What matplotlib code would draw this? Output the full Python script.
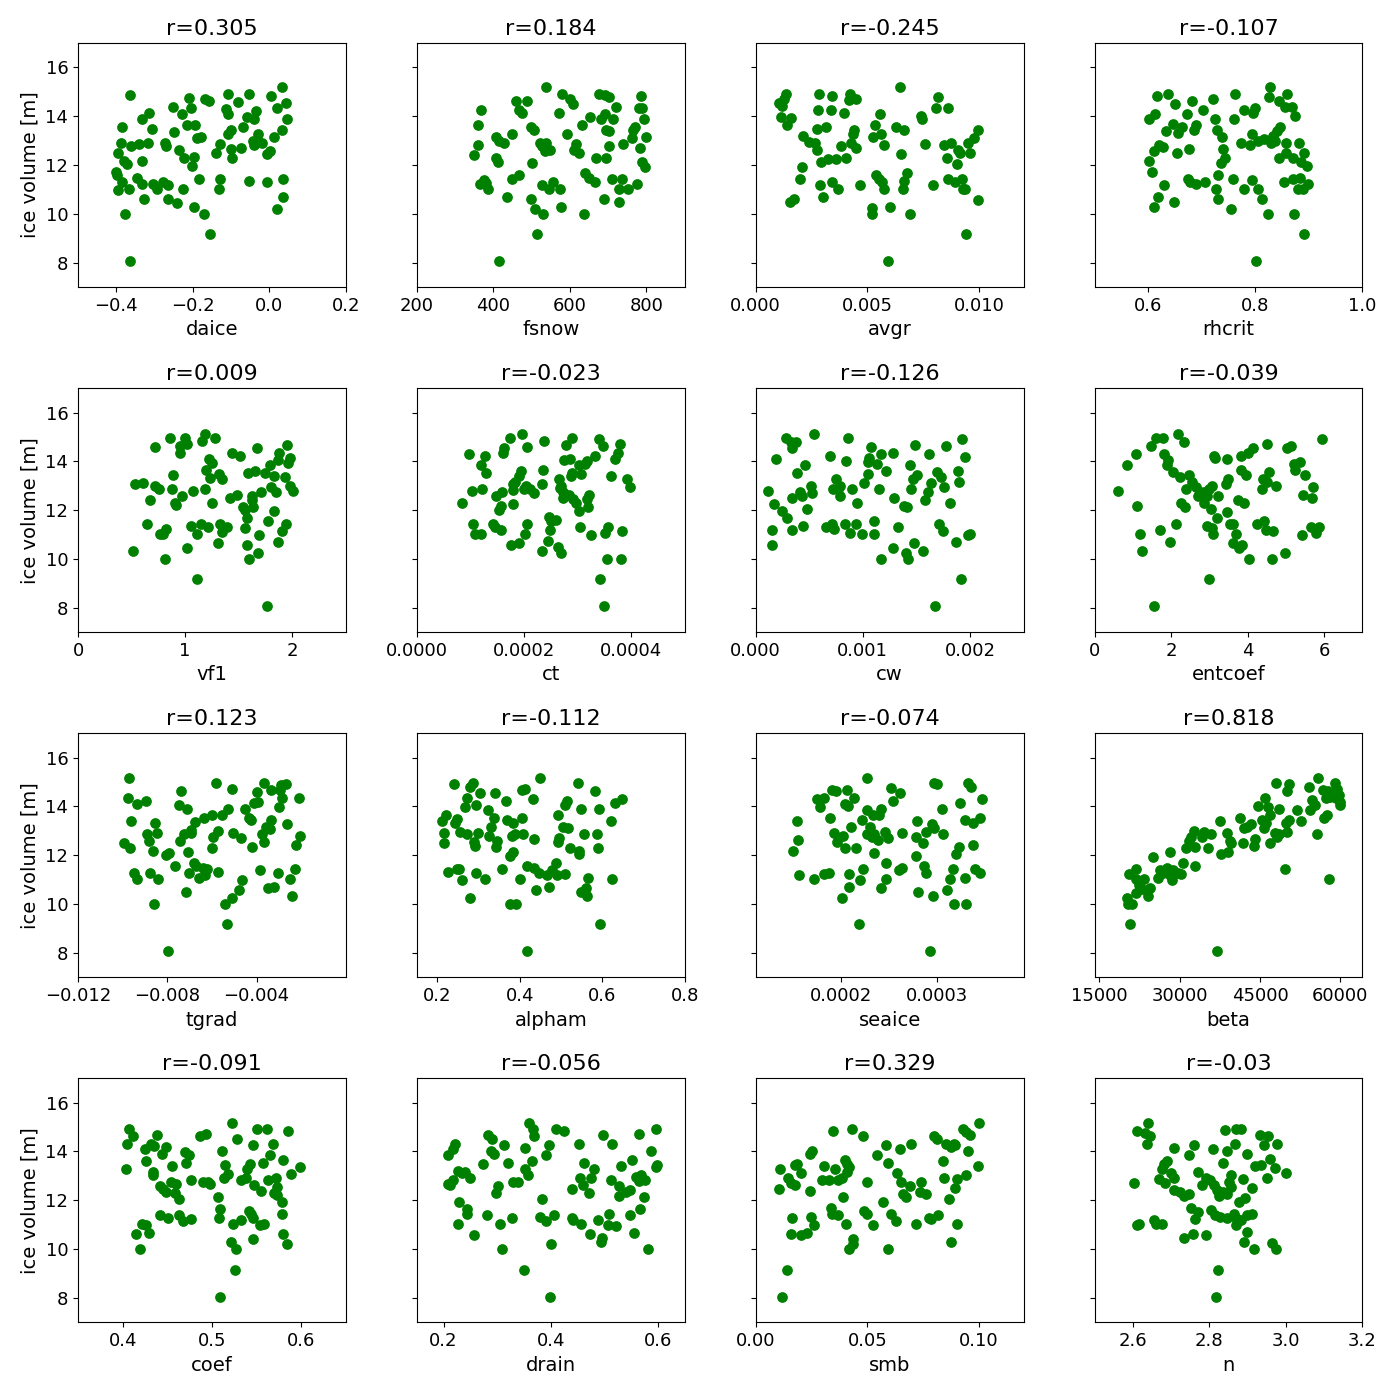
import matplotlib
matplotlib.use('Agg')
import matplotlib.pyplot as plt

# Points: (parameter value, ice volume [m])
daice = [(0.034, 15.18), (-0.365, 14.88), (-0.107, 14.93), (-0.053, 14.93), (0.005, 14.85), (-0.21, 14.76),
         (-0.168, 14.70), (-0.158, 14.63), (-0.081, 14.6), (0.044, 14.54), (-0.252, 14.36), (-0.206, 14.32),
         (0.02, 14.32), (-0.112, 14.29), (-0.109, 14.08), (-0.314, 14.15), (-0.229, 14.11), (-0.035, 14.22),
         (-0.058, 13.99), (-0.332, 13.88), (-0.041, 13.88), (0.047, 13.88), (-0.215, 13.63), (-0.195, 13.63),
         (-0.384, 13.56), (-0.068, 13.56), (-0.307, 13.47), (-0.1, 13.43), (-0.107, 13.26), (-0.25, 13.37),
         (0.032, 13.44), (-0.029, 13.29), (-0.178, 13.15), (-0.188, 13.09), (0.013, 13.15), (-0.318, 12.92),
         (-0.388, 12.9), (-0.34, 12.85), (-0.273, 12.9), (-0.27, 12.79), (-0.362, 12.77), (-0.13, 12.88),
         (-0.043, 13.0), (-0.039, 12.81), (-0.02, 12.92), (-0.074, 12.72), (-0.1, 12.65), (-0.236, 12.62),
         (-0.395, 12.51), (-0.139, 12.48), (0.002, 12.58), (-0.006, 12.44), (-0.198, 12.33), (-0.222, 12.27),
         (-0.097, 12.27), (-0.334, 12.18), (-0.381, 12.16), (-0.373, 12.05), (-0.203, 11.96), (-0.402, 11.72),
         (-0.399, 11.58), (-0.347, 11.49), (-0.183, 11.44), (-0.128, 11.44), (-0.054, 11.36), (0.035, 11.44),
         (-0.386, 11.31), (-0.334, 11.21), (-0.303, 11.21), (-0.293, 11.0), (-0.279, 11.31), (-0.264, 11.17),
         (-0.006, 11.31), (-0.396, 10.98), (-0.366, 11.03), (-0.226, 11.03), (-0.132, 11.03), (0.037, 10.71),
         (-0.328, 10.6), (-0.266, 10.62), (-0.24, 10.46), (-0.197, 10.3), (0.02, 10.21), (-0.377, 10.0),
         (-0.171, 10.0), (-0.156, 9.19), (-0.364, 8.08)]

fsnow = [(538, 15.18), (580, 14.93), (676, 14.93), (691, 14.88), (702, 14.77), (786, 14.85), (459, 14.62),
         (488, 14.62), (600, 14.7), (608, 14.52), (368, 14.25), (467, 14.25), (474, 14.15), (691, 14.08),
         (721, 14.36), (780, 14.32), (788, 14.34), (571, 14.13), (653, 13.99), (712, 13.88), (682, 13.88),
         (794, 13.88), (359, 13.66), (632, 13.63), (771, 13.58), (765, 13.44), (498, 13.58), (507, 13.43),
         (694, 13.44), (702, 13.4), (448, 13.29), (592, 13.29), (406, 13.15), (798, 13.17), (761, 13.09),
         (416, 12.99), (427, 12.89), (521, 12.92), (538, 12.92), (526, 12.79), (615, 12.85), (738, 12.85),
         (359, 12.81), (702, 12.79), (535, 12.58), (549, 12.6), (611, 12.62), (624, 12.48), (349, 12.42),
         (782, 12.72), (406, 12.27), (412, 12.14), (668, 12.27), (694, 12.31), (788, 12.14), (502, 12.07),
         (796, 11.94), (639, 11.69), (651, 11.49), (467, 11.58), (448, 11.44), (375, 11.39), (382, 11.28),
         (366, 11.21), (385, 11.03), (526, 11.2), (556, 11.31), (666, 11.31), (709, 11.44), (735, 11.44),
         (776, 11.21), (545, 11.03), (575, 11.03), (729, 11.03), (753, 11.03), (436, 10.71), (498, 10.62),
         (688, 10.6), (729, 10.49), (509, 10.21), (578, 10.3), (531, 10.0), (636, 10.0), (514, 9.19),
         (415, 8.08)]

avgr = [(0.00645, 15.18), (0.00135, 14.9), (0.00282, 14.93), (0.00341, 14.85), (0.00423, 14.93), (0.00417, 14.66),
        (0.0045, 14.7), (0.00817, 14.77), (0.00105, 14.54), (0.00119, 14.43), (0.00129, 14.7), (0.00278, 14.25),
        (0.00337, 14.25), (0.00395, 14.15), (0.00809, 14.32), (0.00863, 14.32), (0.00556, 14.11), (0.00115, 13.95),
        (0.00157, 13.91), (0.00139, 13.65), (0.0074, 14.0), (0.00744, 13.88), (0.00536, 13.63), (0.00629, 13.56),
        (0.00665, 13.43), (0.00274, 13.47), (0.00313, 13.54), (0.00442, 13.43), (0.00434, 13.26), (0.00526, 13.15),
        (0.00562, 13.29), (0.00998, 13.43), (0.00976, 13.13), (0.00952, 12.9), (0.00212, 13.19), (0.00238, 12.95),
        (0.00264, 12.92), (0.00429, 12.9), (0.00448, 12.72), (0.00383, 12.79), (0.00577, 12.81), (0.00758, 12.85),
        (0.00843, 12.84), (0.00877, 12.92), (0.00274, 12.61), (0.00907, 12.62), (0.00915, 12.51), (0.00651, 12.45),
        (0.00962, 12.51), (0.00405, 12.31), (0.00361, 12.24), (0.00323, 12.24), (0.00292, 12.14), (0.00857, 12.27),
        (0.00901, 12.06), (0.00206, 11.94), (0.0068, 11.69), (0.0054, 11.6), (0.00554, 11.42), (0.00565, 11.31),
        (0.002, 11.44), (0.00288, 11.2), (0.00343, 11.31), (0.00371, 11.03), (0.00468, 11.2), (0.00665, 11.35),
        (0.00659, 11.03), (0.00573, 11.03), (0.00794, 11.17), (0.00863, 11.44), (0.00891, 11.31), (0.00923, 11.44),
        (0.00927, 11.03), (0.00938, 11.03), (0.003, 10.71), (0.00153, 10.49), (0.00173, 10.62), (0.00996, 10.57),
        (0.00522, 10.24), (0.00522, 10.0), (0.00601, 10.3), (0.00692, 10.0), (0.00942, 9.19), (0.00593, 8.08)]

rhcrit = [(0.828, 15.18), (0.616, 14.85), (0.638, 14.93), (0.763, 14.93), (0.826, 14.77), (0.86, 14.9), (0.65, 14.52),
          (0.682, 14.62), (0.722, 14.7), (0.844, 14.63), (0.855, 14.36), (0.868, 14.39), (0.702, 14.25),
          (0.779, 14.25), (0.8, 14.32), (0.796, 14.13), (0.672, 14.11), (0.613, 14.08), (0.602, 13.88),
          (0.874, 14.0), (0.725, 13.88), (0.761, 13.88), (0.646, 13.67), (0.663, 13.58), (0.656, 13.3),
          (0.69, 13.65), (0.686, 13.44), (0.633, 13.4), (0.728, 13.43), (0.738, 13.15), (0.794, 13.29),
          (0.847, 13.56), (0.84, 13.4), (0.833, 13.19), (0.816, 13.06), (0.806, 12.99), (0.829, 12.9),
          (0.837, 12.99), (0.773, 12.9), (0.79, 12.84), (0.858, 12.9), (0.881, 12.92), (0.621, 12.83),
          (0.628, 12.74), (0.611, 12.58), (0.677, 12.65), (0.74, 12.65), (0.654, 12.48), (0.857, 12.48),
          (0.845, 12.27), (0.891, 12.51), (0.743, 12.31), (0.737, 12.07), (0.87, 12.31), (0.886, 12.14),
          (0.897, 11.96), (0.602, 12.18), (0.607, 11.72), (0.73, 11.58), (0.674, 11.44), (0.679, 11.31),
          (0.69, 11.21), (0.707, 11.31), (0.759, 11.44), (0.794, 11.38), (0.853, 11.31), (0.87, 11.44),
          (0.884, 11.49), (0.899, 11.21), (0.88, 11.03), (0.889, 11.03), (0.63, 11.17), (0.726, 11.03),
          (0.779, 11.0), (0.806, 11.03), (0.618, 10.71), (0.73, 10.6), (0.812, 10.62), (0.649, 10.49),
          (0.611, 10.3), (0.755, 10.21), (0.824, 10.0), (0.872, 10.0), (0.891, 9.19), (0.802, 8.08)]

vf1 = [(1.186, 15.14), (0.86, 14.94), (1.0, 14.94), (1.015, 14.73), (0.956, 14.63), (0.948, 14.33), (1.157, 14.82),
       (1.282, 14.94), (0.718, 14.57), (1.666, 14.53), (1.954, 14.67), (1.44, 14.33), (1.511, 14.23), (1.879, 14.33),
       (1.866, 14.05), (1.983, 14.12), (1.962, 13.92), (1.223, 14.1), (1.253, 13.92), (1.198, 13.65), (1.232, 13.31),
       (1.791, 13.85), (1.649, 13.62), (1.59, 13.51), (1.741, 13.51), (1.825, 13.4), (0.889, 13.44), (1.315, 13.47),
       (1.34, 13.27), (1.934, 13.37), (0.53, 13.08), (0.605, 13.13), (0.714, 12.97), (0.756, 12.87), (0.877, 12.87),
       (1.073, 12.79), (1.182, 12.87), (1.804, 12.93), (1.846, 12.76), (1.975, 12.97), (2.004, 12.8), (1.708, 12.73),
       (0.973, 12.59), (1.482, 12.63), (1.415, 12.49), (1.628, 12.6), (1.628, 12.42), (0.668, 12.42), (0.906, 12.31),
       (0.919, 12.22), (1.253, 12.31), (1.537, 12.12), (1.557, 11.99), (1.632, 12.12), (1.825, 11.95), (1.578, 11.67),
       (1.775, 11.56), (0.643, 11.43), (1.057, 11.36), (1.148, 11.43), (1.211, 11.29), (1.324, 11.43), (1.34, 11.1),
       (1.39, 11.29), (1.557, 11.27), (1.942, 11.43), (1.908, 11.16), (0.823, 11.22), (0.764, 11.02), (0.793, 11.02),
       (1.11, 11.02), (1.691, 10.99), (1.311, 10.65), (1.87, 10.68), (0.514, 10.34), (1.019, 10.45), (1.578, 10.59),
       (1.683, 10.24), (0.814, 10.0), (1.599, 10.0), (1.106, 9.18), (1.766, 8.08)]

ct = [(0.000196, 15.14), (0.000173, 14.94), (0.000238, 14.82), (0.00029, 14.94), (0.00034, 14.91), (0.000347, 14.63),
      (0.00038, 14.73), (0.000278, 14.67), (0.000163, 14.53), (0.000161, 14.33), (0.000206, 14.58), (0.0000977, 14.29),
      (0.000128, 14.22), (0.000332, 14.22), (0.000376, 14.33), (0.00037, 14.1), (0.000275, 14.05), (0.000286, 14.08),
      (0.000313, 13.88), (0.000303, 13.85), (0.000317, 14.0), (0.000119, 13.85), (0.000129, 13.51), (0.000195, 13.62),
      (0.00019, 13.4), (0.000184, 13.17), (0.00018, 13.06), (0.000235, 13.65), (0.00029, 13.54), (0.000288, 13.42),
      (0.000306, 13.47), (0.000362, 13.4), (0.000265, 13.27), (0.00027, 13.01), (0.000273, 12.76), (0.000267, 12.9),
      (0.000234, 13.06), (0.000392, 13.28), (0.000397, 12.93), (0.000203, 13.01), (0.0002, 12.87), (0.000211, 12.87),
      (0.000103, 12.79), (0.000121, 12.87), (0.00018, 12.84), (0.000159, 12.76), (0.000219, 12.69), (0.000148, 12.56),
      (0.000284, 12.63), (0.000292, 12.45), (0.000273, 12.49), (0.000322, 12.63), (0.000317, 12.46),
      (0.0000852, 12.29), (0.00018, 12.24), (0.000157, 12.18), (0.000153, 12.01), (0.000298, 12.29),
      (0.000303, 11.95), (0.000319, 12.11), (0.000246, 11.7), (0.000251, 11.56), (0.000259, 11.6), (0.000248, 11.2),
      (0.000104, 11.43), (0.000109, 11.02), (0.000119, 11.02), (0.000142, 11.43), (0.000146, 11.29), (0.000157, 11.2),
      (0.000205, 11.43), (0.000201, 11.02), (0.000305, 11.29), (0.000326, 10.99), (0.000357, 11.29),
      (0.000352, 11.06), (0.000383, 11.16), (0.000175, 10.59), (0.00019, 10.65), (0.000245, 10.72), (0.000234, 10.31),
      (0.000263, 10.48), (0.000269, 10.24), (0.000355, 10.0), (0.000381, 10.0), (0.000342, 9.18), (0.000349, 8.08)]

cw = [(0.000541, 15.14), (0.000281, 14.94), (0.00033, 14.8), (0.000372, 14.8), (0.000339, 14.53), (0.00086, 14.94),
      (0.00193, 14.9), (0.00108, 14.57), (0.00106, 14.12), (0.00105, 13.99), (0.00149, 14.67), (0.00178, 14.63),
      (0.00117, 14.29), (0.00113, 13.88), (0.00128, 14.33), (0.00162, 14.29), (0.00195, 14.19), (0.000694, 14.22),
      (0.000194, 14.08), (0.000839, 14.03), (0.000459, 13.85), (0.00144, 13.85), (0.00122, 13.62), (0.000388, 13.51),
      (0.00105, 13.47), (0.00169, 13.55), (0.00173, 13.37), (0.00189, 13.62), (0.0019, 13.14), (0.00151, 13.44),
      (0.00147, 13.27), (0.000752, 13.27), (0.000723, 12.87), (0.000785, 12.97), (0.000785, 12.56), (0.000765, 12.87),
      (0.00101, 13.13), (0.000517, 13.01), (0.000525, 12.69), (0.00164, 13.11), (0.00161, 12.76), (0.00158, 12.42),
      (0.00176, 12.93), (0.000116, 12.8), (0.000413, 12.76), (0.000434, 12.6), (0.000897, 12.86), (0.00115, 12.86),
      (0.00145, 12.86), (0.000343, 12.49), (0.00129, 12.49), (0.00095, 12.29), (0.000174, 12.24), (0.00138, 12.18),
      (0.00141, 12.11), (0.00181, 12.29), (0.000475, 12.04), (0.000244, 11.95), (0.000289, 11.67), (0.0011, 11.56),
      (0.000715, 11.43), (0.000731, 11.24), (0.000661, 11.29), (0.000835, 11.43), (0.000938, 11.43),
      (0.000442, 11.36), (0.00171, 11.43), (0.00175, 11.16), (0.000157, 11.2), (0.000343, 11.2), (0.00133, 11.29),
      (0.00088, 11.06), (0.000992, 11.02), (0.0011, 11.02), (0.00198, 10.99), (0.002, 11.02), (0.00187, 10.69),
      (0.000157, 10.59), (0.00148, 10.65), (0.00128, 10.45), (0.00156, 10.31), (0.0014, 10.24), (0.00142, 10.0),
      (0.00117, 10.0), (0.00192, 9.18), (0.00167, 8.08)]

entcoef = [(2.18, 15.14), (1.62, 14.94), (1.79, 14.94), (2.34, 14.8), (1.48, 14.64), (5.94, 14.9), (4.14, 14.56),
           (4.5, 14.73), (5.03, 14.56), (5.13, 14.64), (1.08, 14.29), (1.81, 14.29), (1.92, 14.05), (1.89, 13.85),
           (3.13, 14.22), (3.16, 14.12), (3.45, 14.08), (3.82, 14.22), (4.0, 14.33), (0.84, 13.85), (5.21, 13.88),
           (5.38, 13.99), (5.24, 13.65), (2.06, 13.55), (2.23, 13.37), (2.47, 13.44), (3.82, 13.65), (3.97, 13.44),
           (4.55, 13.55), (5.5, 13.44), (3.5, 13.27), (3.43, 13.06), (4.4, 13.27), (4.51, 13.17), (4.37, 12.87),
           (4.75, 13.01), (2.56, 13.17), (2.38, 12.87), (2.66, 12.93), (2.75, 12.76), (2.87, 12.76), (2.7, 12.6),
           (2.93, 12.6), (3.07, 12.97), (2.85, 12.29), (2.99, 12.87), (2.81, 12.56), (0.625, 12.79), (5.72, 12.93),
           (3.22, 12.6), (5.44, 12.63), (5.68, 12.49), (3.75, 12.42), (3.91, 12.31), (2.25, 12.31), (2.36, 12.12),
           (1.11, 12.16), (3.04, 12.05), (3.45, 11.92), (3.19, 11.67), (2.94, 11.36), (3.06, 11.27), (3.1, 11.02),
           (3.54, 11.43), (3.63, 11.43), (3.7, 11.02), (3.62, 10.65), (3.77, 10.45), (3.85, 10.59), (2.12, 11.43),
           (1.71, 11.2), (4.24, 11.43), (4.44, 11.56), (4.47, 11.2), (4.66, 11.16), (5.67, 11.33), (5.88, 11.29),
           (5.8, 11.06), (5.42, 10.99), (1.2, 11.02), (1.98, 10.69), (1.23, 10.31), (4.99, 10.24), (4.05, 10.0),
           (4.63, 10.0), (2.99, 9.18), (1.56, 8.08)]

tgrad = [(-0.0097, 15.18), (-0.00974, 14.33), (-0.00934, 14.08), (-0.00894, 14.23), (-0.00962, 13.4),
         (-0.00854, 13.31), (-0.00846, 12.93), (-0.0089, 12.87), (-0.0088, 12.59), (-0.00994, 12.49),
         (-0.00966, 12.29), (-0.00866, 12.18), (-0.0095, 11.27), (-0.00934, 11.02), (-0.00876, 11.27),
         (-0.00842, 11.02), (-0.00858, 10.0), (-0.00738, 14.63), (-0.00746, 14.05), (-0.0071, 13.88),
         (-0.0058, 14.94), (-0.0051, 14.73), (-0.00726, 12.87), (-0.00742, 12.6), (-0.00694, 13.03),
         (-0.00676, 13.37), (-0.00694, 12.93), (-0.00634, 13.54), (-0.006, 13.65), (-0.00554, 13.65),
         (-0.0053, 13.88), (-0.00454, 13.88), (-0.00394, 14.18), (-0.0041, 14.12), (-0.00398, 14.58),
         (-0.00366, 14.94), (-0.00334, 14.67), (-0.0029, 14.87), (-0.00266, 14.91), (-0.00294, 14.67),
         (-0.00286, 14.33), (-0.003, 13.99), (-0.0021, 14.33), (-0.00434, 13.54), (-0.00426, 13.44),
         (-0.00336, 13.44), (-0.00264, 13.27), (-0.0036, 13.17), (-0.0034, 13.06), (-0.00374, 12.87),
         (-0.00366, 12.56), (-0.00574, 13.01), (-0.00594, 12.76), (-0.00506, 12.93), (-0.0047, 12.69),
         (-0.00206, 12.79), (-0.00224, 12.42), (-0.0042, 12.35), (-0.006, 12.31), (-0.00706, 12.12),
         (-0.00806, 12.01), (-0.00794, 12.08), (-0.00766, 11.56), (-0.0068, 11.7), (-0.0067, 11.56),
         (-0.0064, 11.46), (-0.0062, 11.43), (-0.00704, 11.29), (-0.0066, 11.06), (-0.0063, 11.2),
         (-0.00574, 11.31), (-0.00384, 11.41), (-0.00306, 11.29), (-0.0023, 11.43), (-0.0025, 11.02),
         (-0.00466, 10.99), (-0.0048, 10.59), (-0.0051, 10.24), (-0.0035, 10.65), (-0.0032, 10.69),
         (-0.00716, 10.48), (-0.0024, 10.31), (-0.0054, 10.0), (-0.00532, 9.18), (-0.00798, 8.08)]

alpham = [(0.449, 15.18), (0.239, 14.9), (0.279, 14.8), (0.286, 14.94), (0.304, 14.53), (0.339, 14.57),
          (0.405, 14.67), (0.413, 14.73), (0.54, 14.94), (0.582, 14.63), (0.272, 14.33), (0.268, 13.99),
          (0.294, 14.05), (0.366, 14.22), (0.432, 14.29), (0.514, 14.22), (0.509, 14.05), (0.647, 14.29),
          (0.63, 14.12), (0.549, 13.88), (0.592, 13.88), (0.322, 13.85), (0.221, 13.65), (0.212, 13.4),
          (0.247, 13.47), (0.242, 13.31), (0.337, 13.54), (0.37, 13.44), (0.384, 13.31), (0.405, 13.54),
          (0.492, 13.65), (0.62, 13.4), (0.329, 13.14), (0.505, 13.17), (0.516, 13.13), (0.255, 12.97),
          (0.272, 12.87), (0.217, 12.93), (0.215, 12.49), (0.299, 12.93), (0.324, 12.79), (0.345, 12.6),
          (0.343, 12.35), (0.381, 12.79), (0.388, 12.87), (0.407, 12.87), (0.435, 12.65), (0.495, 12.69),
          (0.493, 12.56), (0.555, 12.86), (0.586, 12.86), (0.288, 12.53), (0.291, 12.38), (0.522, 12.28),
          (0.543, 12.18), (0.543, 12.04), (0.59, 12.29), (0.384, 12.15), (0.375, 11.95), (0.487, 11.67),
          (0.226, 11.33), (0.247, 11.43), (0.253, 11.43), (0.357, 11.43), (0.418, 11.56), (0.434, 11.47),
          (0.446, 11.29), (0.294, 11.29), (0.467, 11.2), (0.478, 11.41), (0.489, 11.2), (0.509, 11.22),
          (0.26, 10.99), (0.315, 11.02), (0.4, 11.02), (0.565, 11.06), (0.623, 11.02), (0.44, 10.59),
          (0.471, 10.69), (0.549, 10.48), (0.56, 10.65), (0.563, 10.31), (0.28, 10.24), (0.377, 10.0),
          (0.391, 10.0), (0.595, 9.18), (0.418, 8.08)]

seaice = [(0.0002275, 15.18), (0.000191, 14.67), (0.000195, 14.63), (0.000206, 14.67), (0.000175, 14.29),
          (0.000183, 14.33), (0.000179, 13.99), (0.000214, 14.33), (0.000204, 14.08), (0.000207, 14.03),
          (0.000252, 14.76), (0.000261, 14.53), (0.000254, 14.22), (0.0002275, 13.85), (0.000233, 13.65),
          (0.000242, 13.88), (0.00024, 13.65), (0.000296, 14.94), (0.0003, 14.9), (0.000332, 14.94),
          (0.000335, 14.8), (0.000346, 14.29), (0.000323, 14.12), (0.000305, 13.88), (0.000155, 13.4),
          (0.000189, 13.51), (0.000222, 13.44), (0.000279, 13.4), (0.000328, 13.44), (0.000337, 13.31),
          (0.000344, 13.51), (0.000211, 13.17), (0.000193, 12.93), (0.000196, 12.56), (0.000202, 12.79),
          (0.00023, 13.17), (0.0002275, 12.87), (0.000234, 12.87), (0.000238, 12.63), (0.000232, 12.76),
          (0.000246, 12.97), (0.000249, 12.69), (0.000263, 12.9), (0.000294, 13.27), (0.000296, 13.11),
          (0.000288, 12.97), (0.000278, 12.76), (0.000306, 12.86), (0.000156, 12.63), (0.000285, 12.49),
          (0.000337, 12.42), (0.000322, 12.35), (0.000319, 12.04), (0.000151, 12.16), (0.000204, 12.29),
          (0.000216, 12.29), (0.000234, 12.11), (0.000278, 11.95), (0.000247, 11.67), (0.000286, 11.56),
          (0.000288, 11.27), (0.000263, 11.47), (0.00026, 11.4), (0.000316, 11.43), (0.000339, 11.43),
          (0.000344, 11.29), (0.000223, 11.43), (0.000157, 11.2), (0.000172, 11.02), (0.000183, 11.22),
          (0.000188, 11.29), (0.000209, 11.22), (0.00022, 10.99), (0.000247, 11.02), (0.000313, 11.02),
          (0.000328, 11.06), (0.000209, 10.69), (0.000242, 10.65), (0.00028, 10.48), (0.00031, 10.59),
          (0.000295, 10.31), (0.000201, 10.24), (0.000317, 10.0), (0.00033, 10.0), (0.000219, 9.18),
          (0.000292, 8.08)]

beta = [(55860, 15.18), (48020, 14.94), (50410, 14.91), (50080, 14.63), (54130, 14.8), (59080, 14.94), (56690, 14.67),
        (57680, 14.63), (59330, 14.73), (59740, 14.46), (57270, 14.33), (58100, 14.37), (59160, 14.33), (54790, 14.26),
        (55200, 14.05), (59900, 14.19), (59900, 14.05), (45960, 14.33), (44640, 14.01), (46530, 13.99), (48600, 13.88),
        (51900, 13.85), (54380, 13.85), (41330, 13.54), (45460, 13.44), (46780, 13.65), (52730, 13.4), (57520, 13.65),
        (56850, 13.51), (50500, 13.44), (49840, 13.31), (37450, 13.4), (43230, 13.27), (42650, 13.17), (41990, 13.11),
        (45710, 13.13), (46120, 13.31), (47770, 12.9), (48600, 12.87), (50000, 12.94), (48190, 12.76), (55620, 12.86),
        (32670, 13.01), (32090, 12.76), (31680, 12.6), (34560, 12.97), (35800, 12.87), (34150, 12.76), (38860, 12.93),
        (39350, 12.6), (39520, 12.49), (41830, 12.52), (44060, 12.65), (43810, 12.38), (46940, 12.49), (31260, 12.29),
        (32910, 12.35), (35230, 12.31), (28210, 12.12), (37700, 12.04), (39100, 12.15), (25070, 11.92), (30680, 11.67),
        (32910, 11.56), (49590, 11.43), (21930, 11.43), (20530, 11.22), (26310, 11.4), (27550, 11.47), (26970, 11.27),
        (28790, 11.4), (28210, 11.2), (29610, 11.29), (30270, 11.22), (25900, 11.06), (28620, 10.97), (21770, 11.02),
        (23420, 11.02), (22350, 10.79), (23010, 10.62), (24490, 10.65), (21770, 10.45), (24000, 10.31), (20120, 10.24),
        (20370, 10.0), (21190, 10.0), (57930, 11.02), (20780, 9.18), (37040, 8.08)]

coef = [(0.523, 15.18), (0.407, 14.91), (0.412, 14.63), (0.405, 14.32), (0.438, 14.66), (0.4245, 14.11),
        (0.4315, 14.32), (0.4355, 14.22), (0.449, 14.18), (0.4445, 13.88), (0.426, 13.62), (0.4035, 13.29),
        (0.4345, 13.18), (0.434, 13.02), (0.4555, 13.39), (0.47, 13.98), (0.474, 13.84), (0.4705, 13.54),
        (0.487, 14.63), (0.493, 14.73), (0.528, 14.52), (0.5505, 14.93), (0.5615, 14.93), (0.5855, 14.86),
        (0.568, 14.32), (0.5455, 14.25), (0.5115, 14.03), (0.5655, 13.87), (0.5145, 13.46), (0.543, 13.5),
        (0.5395, 13.29), (0.557, 13.54), (0.58, 13.66), (0.599, 13.36), (0.589, 13.09), (0.518, 13.09),
        (0.513, 12.91), (0.532, 12.85), (0.538, 12.91), (0.563, 12.85), (0.5715, 12.91), (0.477, 12.84),
        (0.4905, 12.74), (0.4955, 12.74), (0.498, 12.68), (0.4545, 12.74), (0.4595, 12.65), (0.4415, 12.58),
        (0.4455, 12.47), (0.449, 12.33), (0.547, 12.63), (0.573, 12.54), (0.5545, 12.4), (0.569, 12.31),
        (0.573, 12.2), (0.579, 11.95), (0.459, 12.31), (0.463, 12.06), (0.5065, 12.13), (0.5095, 11.65),
        (0.542, 11.58), (0.544, 11.44), (0.5465, 11.27), (0.578, 11.44), (0.442, 11.4), (0.4505, 11.27),
        (0.463, 11.4), (0.468, 11.17), (0.476, 11.24), (0.508, 11.27), (0.533, 11.21), (0.524, 11.03),
        (0.554, 10.99), (0.558, 11.03), (0.422, 11.03), (0.4265, 10.99), (0.4155, 10.62), (0.429, 10.66),
        (0.5795, 10.6), (0.5465, 10.42), (0.5215, 10.31), (0.584, 10.21), (0.5265, 10.01), (0.419, 10.01),
        (0.5255, 9.15), (0.5095, 8.04)]

drain = [(0.3587, 15.18), (0.367, 14.91), (0.368, 14.62), (0.4104, 14.93), (0.4246, 14.84), (0.596, 14.93),
         (0.2835, 14.66), (0.291, 14.52), (0.498, 14.66), (0.565, 14.73), (0.221, 14.32), (0.2167, 14.11),
         (0.2075, 13.84), (0.312, 14.25), (0.352, 14.15), (0.396, 14.25), (0.391, 13.87), (0.452, 14.32),
         (0.515, 14.32), (0.2877, 14.04), (0.2944, 13.9), (0.588, 14.0), (0.3645, 13.63), (0.2727, 13.47),
         (0.321, 13.54), (0.4614, 13.54), (0.5524, 13.66), (0.598, 13.43), (0.5967, 13.36), (0.5315, 13.39),
         (0.352, 13.29), (0.3578, 13.02), (0.4814, 13.29), (0.2267, 13.22), (0.235, 13.13), (0.2392, 13.15),
         (0.249, 12.91), (0.2167, 12.85), (0.2083, 12.68), (0.2125, 12.63), (0.3294, 12.74), (0.3394, 12.77),
         (0.3019, 12.58), (0.2977, 12.31), (0.4547, 12.91), (0.4605, 12.63), (0.4747, 12.91), (0.5123, 12.85),
         (0.5582, 12.95), (0.5691, 13.02), (0.5649, 12.81), (0.575, 12.84), (0.5273, 12.57), (0.5273, 12.17),
         (0.5398, 12.33), (0.5482, 12.43), (0.4397, 12.47), (0.4714, 12.31), (0.5733, 12.13), (0.3837, 12.06),
         (0.2292, 11.95), (0.2434, 11.65), (0.2434, 11.42), (0.5674, 11.65), (0.281, 11.4), (0.3278, 11.27),
         (0.3795, 11.31), (0.3912, 11.17), (0.4063, 11.4), (0.4397, 11.27), (0.4422, 11.2), (0.4873, 11.21),
         (0.5081, 11.44), (0.5482, 11.38), (0.2267, 11.03), (0.306, 11.03), (0.4564, 11.03), (0.5065, 10.99),
         (0.5215, 10.94), (0.2576, 10.58), (0.4731, 10.62), (0.5549, 10.66), (0.4956, 10.44), (0.4931, 10.31),
         (0.3996, 10.21), (0.3086, 10.01), (0.5816, 10.01), (0.3495, 9.15), (0.3979, 8.04)]

smb = [(0.1002, 15.18), (0.0929, 14.93), (0.0942, 14.8), (0.0958, 14.66), (0.0431, 14.93), (0.0347, 14.84),
       (0.0482, 14.62), (0.0798, 14.62), (0.0813, 14.52), (0.0853, 14.32), (0.0887, 14.32), (0.0873, 14.18),
       (0.0893, 14.25), (0.0694, 14.32), (0.0585, 14.25), (0.0645, 14.11), (0.0252, 14.04), (0.0244, 13.88),
       (0.0952, 14.0), (0.0542, 13.84), (0.0399, 13.67), (0.0407, 13.5), (0.0185, 13.5), (0.0175, 13.43),
       (0.0595, 13.54), (0.0839, 13.62), (0.0308, 13.39), (0.0357, 13.29), (0.0417, 13.36), (0.0411, 13.15),
       (0.0109, 13.29), (0.0996, 13.39), (0.0204, 13.11), (0.0143, 12.92), (0.0159, 12.72), (0.0175, 12.63),
       (0.0298, 12.85), (0.0327, 12.84), (0.0367, 12.85), (0.0387, 12.91), (0.0631, 13.13), (0.0651, 12.74),
       (0.074, 12.77), (0.05, 12.74), (0.0843, 12.92), (0.0903, 12.88), (0.0942, 13.02), (0.0893, 12.5),
       (0.0105, 12.47), (0.0242, 12.4), (0.069, 12.57), (0.0659, 12.27), (0.0675, 12.13), (0.0738, 12.33),
       (0.0764, 12.27), (0.0391, 12.13), (0.0569, 11.95), (0.0867, 12.06), (0.0337, 11.68), (0.0343, 11.42),
       (0.0367, 11.4), (0.0486, 11.58), (0.05, 11.44), (0.0605, 11.44), (0.0629, 11.17), (0.0163, 11.27),
       (0.0248, 11.31), (0.0262, 10.97), (0.0403, 11.03), (0.0526, 10.99), (0.072, 11.03), (0.0778, 11.27),
       (0.0784, 11.24), (0.0817, 11.38), (0.0903, 11.03), (0.0159, 10.62), (0.0204, 10.58), (0.0232, 10.66),
       (0.0438, 10.42), (0.0438, 10.21), (0.0419, 10.01), (0.0875, 10.28), (0.0591, 10.01), (0.0139, 9.15),
       (0.0119, 8.04)]

n = [(2.6405, 15.18), (2.6116, 14.84), (2.6324, 14.76), (2.6462, 14.62), (2.6382, 14.32), (2.8416, 14.89),
     (2.8694, 14.93), (2.8832, 14.93), (2.933, 14.66), (2.9538, 14.62), (2.9422, 14.25), (2.9757, 14.32),
     (2.8659, 14.32), (2.7595, 14.25), (2.7075, 14.14), (2.8092, 14.11), (2.8462, 14.03), (2.8347, 13.54),
     (2.7457, 13.87), (2.8983, 13.88), (2.6902, 13.63), (2.6821, 13.5), (2.6751, 13.29), (2.9595, 13.68),
     (2.919, 13.39), (2.9364, 13.45), (2.9711, 13.33), (3.0, 13.11), (2.7711, 13.18), (2.6994, 13.13),
     (2.7087, 12.91), (2.6694, 12.88), (2.8578, 13.02), (2.9503, 12.91), (2.6035, 12.72), (2.6844, 12.72),
     (2.7919, 12.91), (2.8023, 12.84), (2.7803, 12.63), (2.8891, 12.88), (2.8509, 12.74), (2.8578, 12.53),
     (2.8116, 12.63), (2.8208, 12.44), (2.9121, 12.5), (2.7075, 12.43), (2.7225, 12.36), (2.7341, 12.16),
     (2.748, 12.27), (2.8266, 12.16), (2.8347, 12.33), (2.8462, 12.27), (2.8925, 12.09), (2.8786, 11.95),
     (2.7514, 11.68), (2.7711, 11.51), (2.763, 11.24), (2.8035, 11.62), (2.815, 11.4), (2.8289, 11.31),
     (2.8462, 11.27), (2.8636, 11.44), (2.8694, 11.27), (2.8832, 11.2), (2.8983, 11.4), (2.9121, 11.44),
     (2.615, 11.03), (2.6116, 10.99), (2.6555, 11.2), (2.6613, 11.03), (2.6751, 11.03), (2.8694, 10.97),
     (2.8994, 10.69), (2.7329, 10.45), (2.7584, 10.62), (2.7908, 10.58), (2.8913, 10.28), (2.9642, 10.26),
     (2.9734, 10.01), (2.9156, 10.01), (2.8231, 9.15), (2.8173, 8.04)]

# Panel order, correlation shown in each title
param_names = ['daice', 'fsnow', 'avgr', 'rhcrit',
               'vf1', 'ct', 'cw', 'entcoef',
               'tgrad', 'alpham', 'seaice', 'beta',
               'coef', 'drain', 'smb', 'n']
param_points = [daice, fsnow, avgr, rhcrit, vf1, ct, cw, entcoef,
                tgrad, alpham, seaice, beta, coef, drain, smb, n]
r_labels = ['0.305', '0.184', '-0.245', '-0.107',
            '0.009', '-0.023', '-0.126', '-0.039',
            '0.123', '-0.112', '-0.074', '0.818',
            '-0.091', '-0.056', '0.329', '-0.03']

# Axis ranges and ticks as on the original figure
x_limits = [(-0.5, 0.2), (200, 900), (0, 0.012), (0.5, 1.0),
            (0, 2.5), (0, 0.0005), (0, 0.0025), (0, 7),
            (-0.012, 0.0), (0.15, 0.8), (0.000112, 0.000389), (14100, 64100),
            (0.35, 0.65), (0.15, 0.65), (0, 0.12), (2.5, 3.2)]
x_ticks = [[-0.4, -0.2, 0.0, 0.2], [200, 400, 600, 800], [0.0, 0.005, 0.01], [0.6, 0.8, 1.0],
           [0, 1, 2], [0.0, 0.0002, 0.0004], [0.0, 0.001, 0.002], [0, 2, 4, 6],
           [-0.012, -0.008, -0.004], [0.2, 0.4, 0.6, 0.8], [0.0002, 0.0003], [15000, 30000, 45000, 60000],
           [0.4, 0.5, 0.6], [0.2, 0.4, 0.6], [0.0, 0.05, 0.1], [2.6, 2.8, 3.0, 3.2]]


def plot_sensitivity_grid(out_file: str) -> None:
    """Scatter the ice volume against each of the 16 model parameters."""
    fig, axes = plt.subplots(4, 4, sharey=True, figsize=(13.93, 13.89), dpi=100)
    plt.subplots_adjust(left=0.056, right=0.978, bottom=0.048, top=0.969,
                        wspace=0.265, hspace=0.414)

    for i, ax in enumerate(axes.flat):
        xs, ys = zip(*param_points[i])
        ax.scatter(xs, ys, s=45, color='green')
        ax.set_title(f'r={r_labels[i]}', fontsize=16)
        ax.set_xlabel(param_names[i], fontsize=14)
        ax.set_xticks(x_ticks[i])
        ax.set_xlim(*x_limits[i])
        ax.tick_params(labelsize=13)
        if i % 4 == 0:
            ax.set_ylabel('ice volume [m]', fontsize=14)

    axes[0, 0].set_ylim(7, 17)
    axes[0, 0].set_yticks([8, 10, 12, 14, 16])

    plt.savefig(out_file)


if __name__ == '__main__':
    plot_sensitivity_grid('out.png')
